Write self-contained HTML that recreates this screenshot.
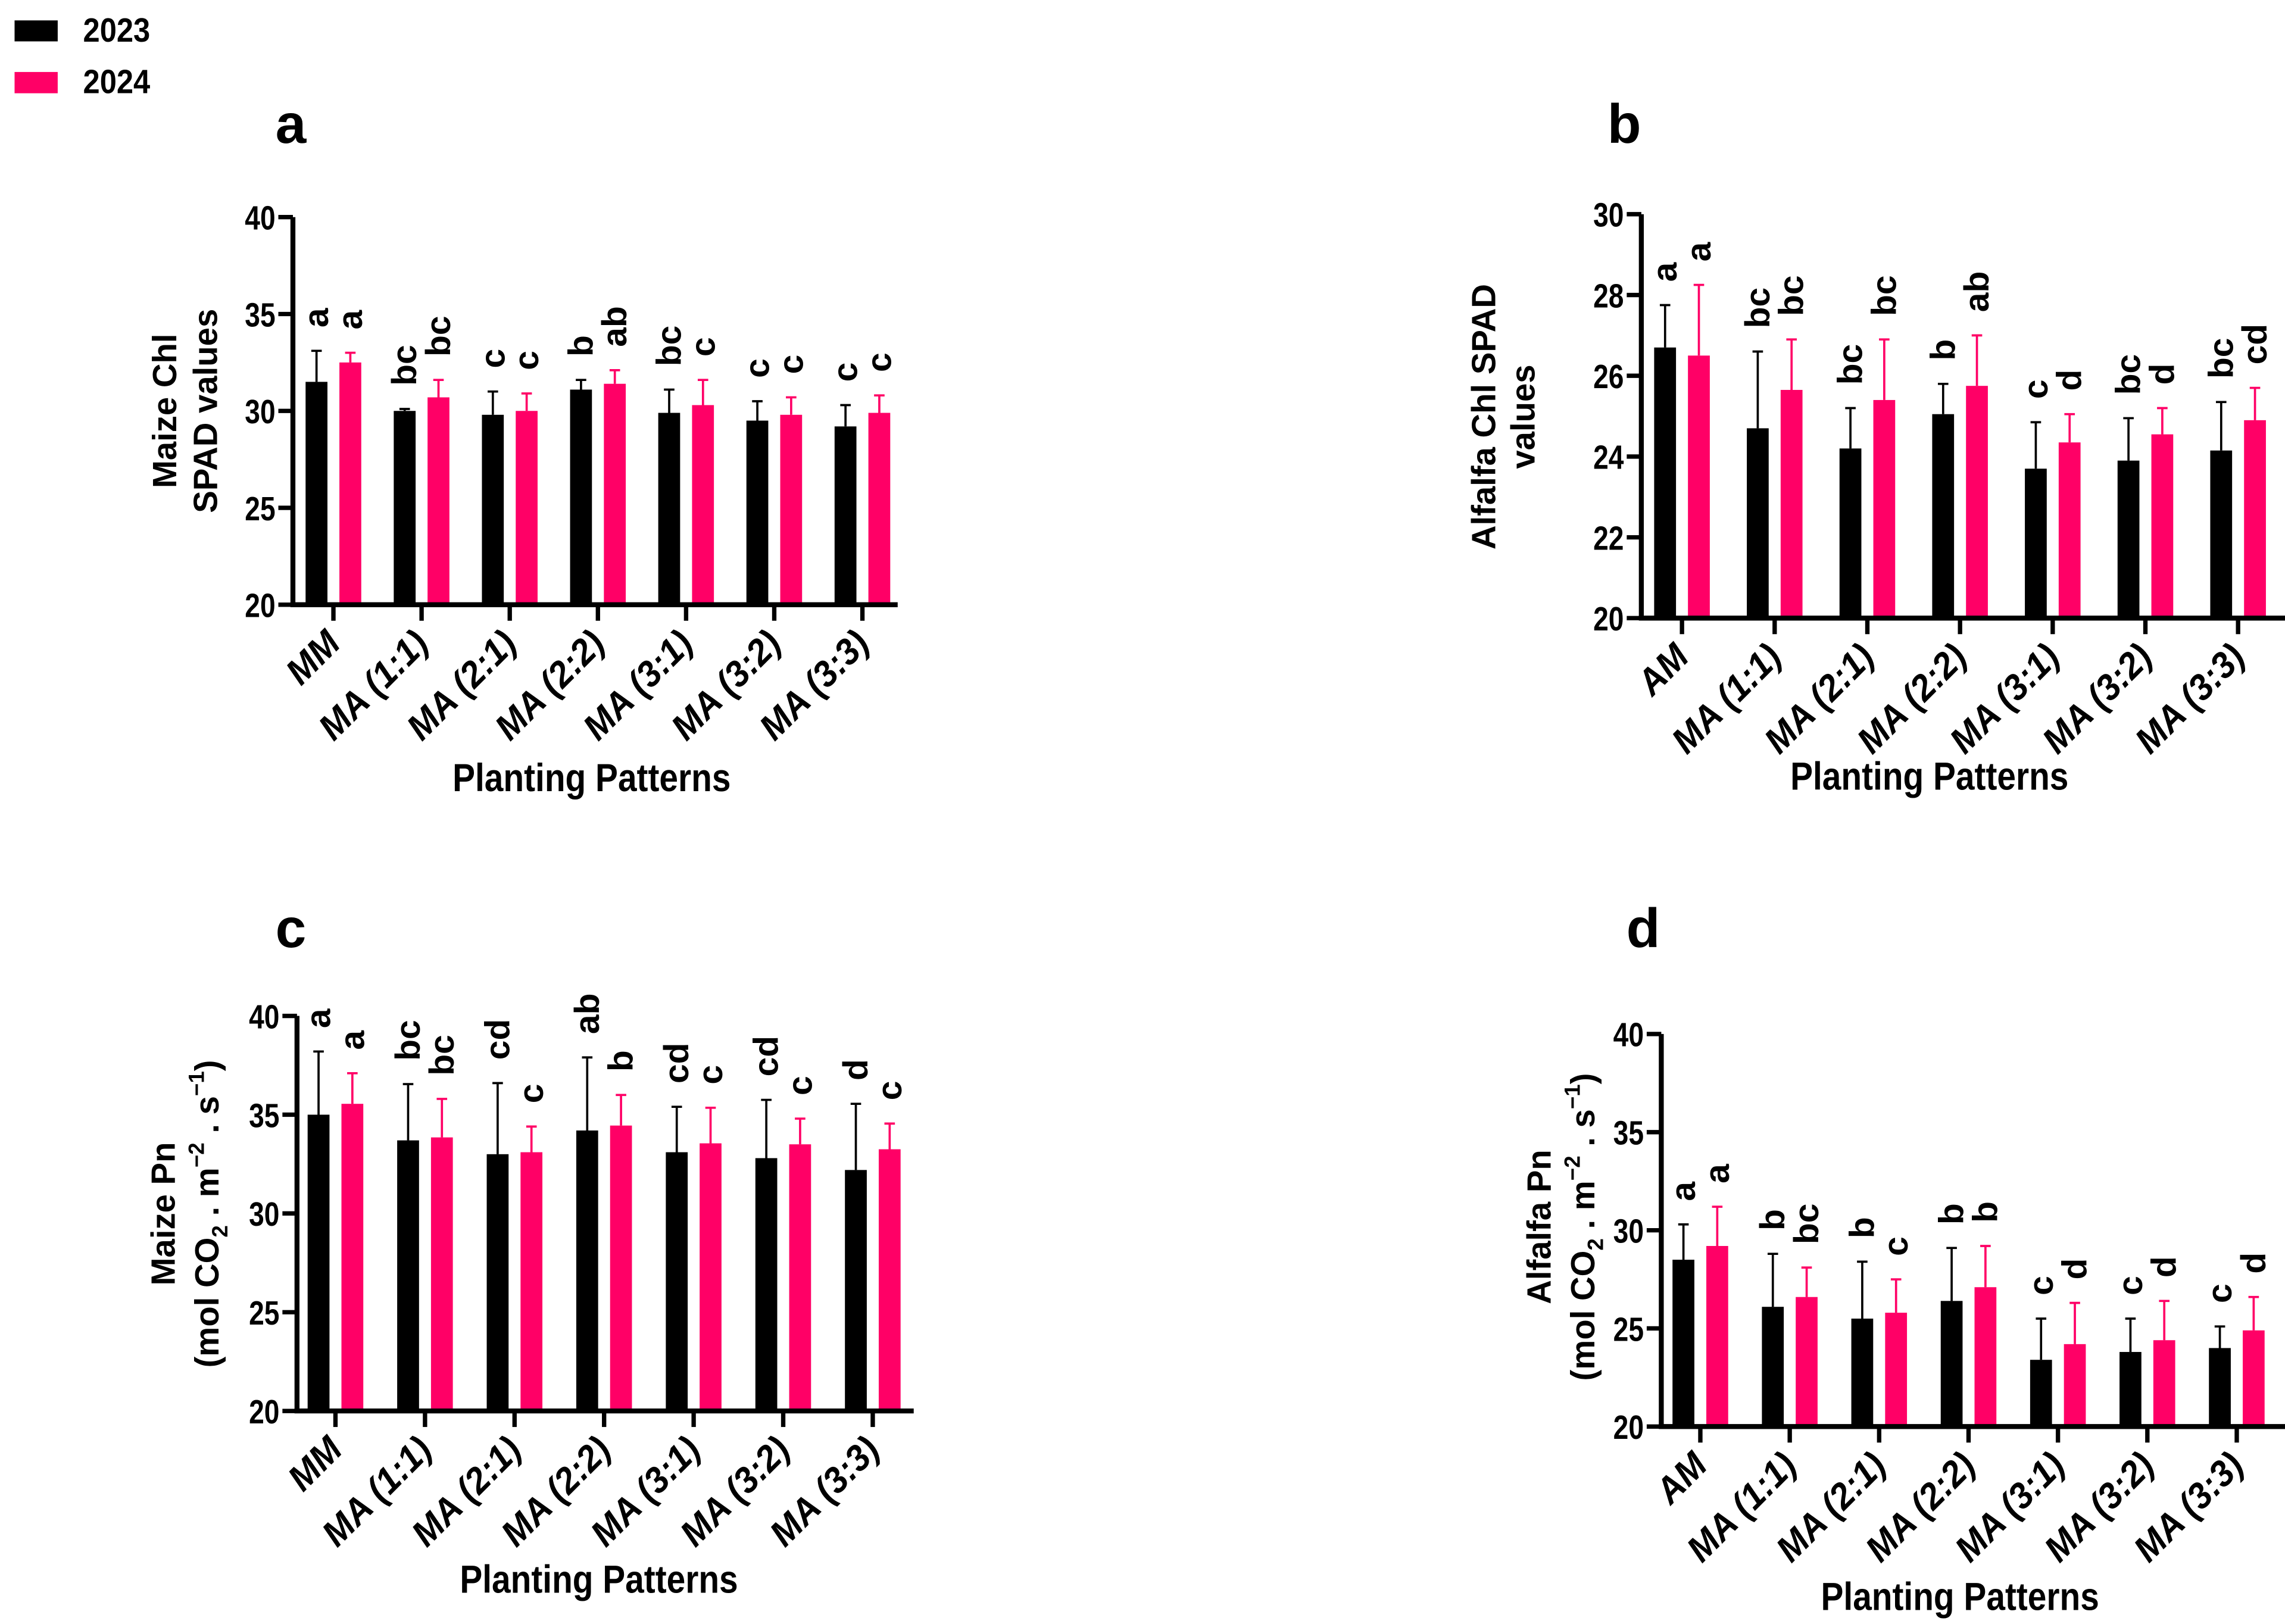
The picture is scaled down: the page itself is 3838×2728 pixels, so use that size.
<!DOCTYPE html>
<html><head><meta charset="utf-8"><style>
html,body{margin:0;padding:0;background:#fff;}
svg{display:block;}
.n{font-family:"Liberation Sans",sans-serif;font-weight:bold;}
.w{font-family:"Liberation Sans",sans-serif;font-weight:bold;}
</style></head><body>
<svg id="fig" width="3838" height="2728" viewBox="0 0 1568 1114.5" preserveAspectRatio="none" xmlns="http://www.w3.org/2000/svg">
<g>
<rect x="10" y="14" width="29.6" height="14.4" fill="#000"/>
<text class="n" font-size="23" transform="translate(57 28.6) scale(0.9 1)">2023</text>
<rect x="10" y="49.4" width="29.6" height="14.6" fill="#FF0066"/>
<text class="n" font-size="23" transform="translate(57 64) scale(0.9 1)">2024</text>
</g>
</svg>
<script>
const NS='http://www.w3.org/2000/svg';
const catsA=['MM','MA (1:1)','MA (2:1)','MA (2:2)','MA (3:1)','MA (3:2)','MA (3:3)'];
const catsB=['AM','MA (1:1)','MA (2:1)','MA (2:2)','MA (3:1)','MA (3:2)','MA (3:3)'];
const ticksA=[20,25,30,35,40];
const ticksB=[20,22,24,26,28,30];
const a2023=[31.5,30.0,29.8,31.1,29.9,29.5,29.2];
const a2023Top=[33.1,30.1,31.0,31.6,31.1,30.5,30.3];
const a2024=[32.5,30.7,30.0,31.4,30.3,29.8,29.9];
const a2024Top=[33.0,31.6,30.9,32.1,31.6,30.7,30.8];
const aLet2023=['a','bc','c','b','bc','c','c'];
const aLet2024=['a','bc','c','ab','c','c','c'];
const b2023=[26.7,24.7,24.2,25.05,23.7,23.9,24.15];
const b2023Top=[27.75,26.6,25.2,25.8,24.85,24.95,25.35];
const b2024=[26.5,25.65,25.4,25.75,24.35,24.55,24.9];
const b2024Top=[28.25,26.9,26.9,27.0,25.05,25.2,25.7];
const bLet2023=['a','bc','bc','b','c','bc','bc'];
const bLet2024=['a','bc','bc','ab','d','d','cd'];
const c2023=[35.0,33.7,33.0,34.2,33.1,32.8,32.2];
const c2023Top=[38.2,36.55,36.6,37.9,35.4,35.75,35.55];
const c2024=[35.55,33.85,33.1,34.45,33.55,33.5,33.25];
const c2024Top=[37.1,35.8,34.4,36.0,35.35,34.8,34.55];
const cLet2023=['a','bc','cd','ab','cd','cd','d'];
const cLet2024=['a','bc','c','b','c','c','c'];
const d2023=[28.5,26.1,25.5,26.4,23.4,23.8,24.0];
const d2023Top=[30.3,28.8,28.4,29.1,25.5,25.5,25.1];
const d2024=[29.2,26.6,25.8,27.1,24.2,24.4,24.9];
const d2024Top=[31.2,28.1,27.5,29.2,26.3,26.4,26.6];
const dLet2023=['a','b','b','b','c','c','c'];
const dLet2024=['a','bc','c','b','d','d','d'];

const svg=document.getElementById('fig');
function mk(tag,attrs,parent){const e=document.createElementNS(NS,tag);for(const k in attrs)e.setAttribute(k,attrs[k]);(parent||svg).appendChild(e);return e;}

function panel(p){
  const g=mk('g',{});
  
  
  const yS=v=>p.yBot-(v-p.ymin)/(p.ymax-p.ymin)*(p.yBot-p.yTop);
  const xS=i=>p.x0+i*p.step;
  const pl=mk('text',{x:p.lx,y:p.ly,'font-size':38,class:'w'},g);pl.textContent=p.id;
  
  
  const series=[{v:p.s1,t:p.t1,l:p.l1,c:'#000',o:-11.6,n:'2023'},{v:p.s2,t:p.t2,l:p.l2,c:'#FF0066',o:11.6,n:'2024'}];
  series.forEach(s=>{
    s.v.forEach((v,i)=>{
      const cx=xS(i)+s.o;
      const r=mk('rect',{x:cx-7.5,y:yS(v),width:15,height:p.yBot-yS(v),fill:s.c},g);
      
      
      const e=mk('path',{d:`M${cx} ${yS(v)}V${yS(s.t[i])}M${cx-3.6} ${yS(s.t[i])}H${cx+3.6}`,stroke:s.c,'stroke-width':1.5,fill:'none'},g);
      
      
      const ly=yS(s.t[i])-16;
      const t=mk('text',{x:cx,y:ly,'font-size':24,class:'w','dominant-baseline':'central',transform:`rotate(-90 ${cx} ${ly})`},g);
      t.textContent=s.l[i];
      
      
    });
  });
  const ya=mk('path',{d:`M${p.ax} ${p.yTop}V${p.yBot+1.5}`,stroke:'#000','stroke-width':3.4,fill:'none'},g);
  
  
  const xa=mk('path',{d:`M${p.ax-1.7} ${p.yBot}H${p.xEnd}`,stroke:'#000','stroke-width':3.4,fill:'none'},g);
  
  
  p.ticks.forEach(v=>{
    mk('path',{d:`M${p.ax-10} ${yS(v)}H${p.ax}`,stroke:'#000','stroke-width':3},g);
    const t=mk('text',{'font-size':23,class:'n','text-anchor':'end',transform:`translate(${p.ax-12} ${yS(v)+8.5}) scale(0.82 1)`},g);
    t.textContent=v;
    
    
  });
  p.cats.forEach((c,i)=>{
    const x=xS(i);
    mk('path',{d:`M${x} ${p.yBot}V${p.yBot+11}`,stroke:'#000','stroke-width':3},g);
    const tx=x+6,ty=p.yBot+28;
    const t=mk('text',{'font-size':25,class:'n','font-style':'italic','text-anchor':'end',transform:`translate(${tx} ${ty}) rotate(-45) scale(0.96 1)`},g);
    t.textContent=c;
    
    
  });
  const xt=mk('text',{'font-size':27,class:'n','text-anchor':'middle',transform:`translate(${p.xtX} ${p.xtY}) scale(0.86 1)`},g);
  xt.textContent='Planting Patterns';
  
  
  const yt=mk('text',{'font-size':23,class:'w','text-anchor':'middle',transform:`translate(${p.ytX} ${p.ytY}) rotate(-90)`},g);
  
  
  yt.innerHTML=p.ytHTML;
}
const unit='<tspan x="0" dy="30">(mol CO<tspan font-size="15" dy="6">2</tspan><tspan dy="-6"> . m</tspan><tspan font-size="15" dy="-10">−2</tspan><tspan dy="10"> . s</tspan><tspan font-size="15" dy="-10">−1</tspan><tspan dy="10">)</tspan></tspan>';
panel({id:'a',cats:catsA,ticks:ticksA,ymin:20,ymax:40,yTop:149,yBot:415,ax:201,x0:228.8,step:60.5,xEnd:616,
  s1:a2023,t1:a2023Top,l1:aLet2023,s2:a2024,t2:a2024Top,l2:aLet2024,lx:189,ly:98,xtX:406,xtY:543,ytX:121,ytY:282,
  ytHTML:'<tspan x="0" dy="0">Maize Chl</tspan><tspan x="0" dy="28">SPAD values</tspan>'});
panel({id:'b',cats:catsB,ticks:ticksB,ymin:20,ymax:30,yTop:147,yBot:424.2,ax:1126.3,x0:1154.2,step:63.6,xEnd:1568,
  s1:b2023,t1:b2023Top,l1:bLet2023,s2:b2024,t2:b2024Top,l2:bLet2024,lx:1103,ly:98,xtX:1324,xtY:542,ytX:1026,ytY:286,
  ytHTML:'<tspan x="0" dy="0">Alfalfa Chl SPAD</tspan><tspan x="0" dy="27">values</tspan>'});
panel({id:'c',cats:catsA,ticks:ticksA,ymin:20,ymax:40,yTop:697.2,yBot:968.3,ax:203.8,x0:230.2,step:61.45,xEnd:627,
  s1:c2023,t1:c2023Top,l1:cLet2023,s2:c2024,t2:c2024Top,l2:cLet2024,lx:189,ly:650,xtX:411,xtY:1093,ytX:120,ytY:833,
  ytHTML:'<tspan x="0" dy="0">Maize Pn</tspan>'+unit});
panel({id:'d',cats:catsB,ticks:ticksA,ymin:20,ymax:40,yTop:709.6,yBot:979,ax:1140,x0:1166.8,step:61.35,xEnd:1568,
  s1:d2023,t1:d2023Top,l1:dLet2023,s2:d2024,t2:d2024Top,l2:dLet2024,lx:1116,ly:650,xtX:1345,xtY:1105,ytX:1064,ytY:842,
  ytHTML:'<tspan x="0" dy="0">Alfalfa Pn</tspan>'+unit});
</script>
</body></html>
